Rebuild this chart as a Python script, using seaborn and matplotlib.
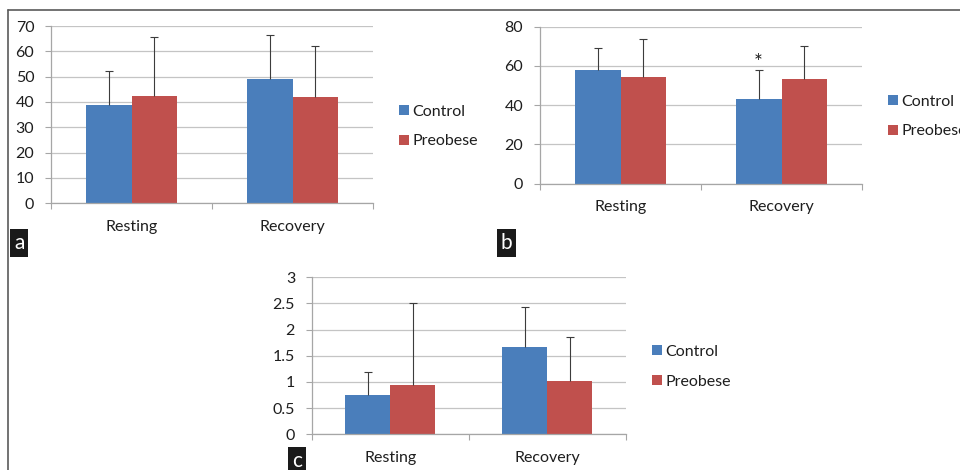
"""Three grouped bar panels (a, b, c): Control vs Preobese, Resting and Recovery."""

import matplotlib

matplotlib.use("Agg")
import matplotlib.pyplot as plt
import pandas as pd
import seaborn as sns
from matplotlib.lines import Line2D
from matplotlib.patches import Patch
from matplotlib.ticker import FuncFormatter

# Data (mean and upper SD whisker per group)
categories = ["Resting", "Recovery"]
groups = ["Control", "Preobese"]

a_control_mean = [39.0, 48.9]
a_control_sd = [13.1, 17.4]
a_preobese_mean = [42.2, 41.9]
a_preobese_sd = [23.6, 20.1]

b_control_mean = [57.8, 43.3]
b_control_sd = [11.3, 14.8]
b_preobese_mean = [54.2, 53.5]
b_preobese_sd = [19.4, 16.7]

c_control_mean = [0.75, 1.67]
c_control_sd = [0.44, 0.76]
c_preobese_mean = [0.95, 1.01]
c_preobese_sd = [1.56, 0.85]

a_ticks = [0, 10, 20, 30, 40, 50, 60, 70]
b_ticks = [0, 20, 40, 60, 80]
c_ticks = [0, 0.5, 1, 1.5, 2, 2.5, 3]

COLORS = {"Control": "#4a7ebb", "Preobese": "#c0504d"}
GRID = "#c4c4c4"
AXIS = "#a6a6a6"
TEXT = "#1e1e1e"
FONT = 11.5

sns.set_theme(style="white")
plt.rcParams["font.family"] = ["Lato", "DejaVu Sans"]

W, H = 960, 470
fig = plt.figure(figsize=(W / 100, H / 100), dpi=100)


def px_axes(x0, x1, y0, y1):
    """Axes given by pixel box (y measured from top)."""
    return fig.add_axes([x0 / W, (H - y1) / H, (x1 - x0) / W, (y1 - y0) / H])


def draw_panel(ax, ctrl_mean, ctrl_sd, pre_mean, pre_sd, ticks):
    frame = pd.DataFrame(
        {
            "category": categories * 2,
            "group": [groups[0]] * 2 + [groups[1]] * 2,
            "mean": ctrl_mean + pre_mean,
        }
    )
    sns.barplot(
        data=frame,
        x="category",
        y="mean",
        hue="group",
        order=categories,
        hue_order=groups,
        palette=COLORS,
        width=0.57,
        errorbar=None,
        saturation=1,
        legend=False,
        linewidth=0,
        ax=ax,
        zorder=2,
    )
    # Upper-only SD whiskers, placed from the bars seaborn drew
    for container, sds in zip(ax.containers, [ctrl_sd, pre_sd]):
        xs = [bar.get_x() + bar.get_width() / 2 for bar in container]
        hs = [bar.get_height() for bar in container]
        eb = ax.errorbar(
            xs,
            hs,
            yerr=[[0] * len(sds), sds],
            fmt="none",
            ecolor="#3c3c3c",
            elinewidth=0.8,
            capsize=3,
            capthick=0.8,
            zorder=3,
        )
        # drop the cap that would sit on the bar top
        eb.lines[1][0].set_visible(False)

    ax.set_xlim(-0.5, len(categories) - 0.5)
    ax.set_ylim(ticks[0], ticks[-1])
    ax.set_yticks(ticks)
    ax.yaxis.set_major_formatter(FuncFormatter(lambda v, _: f"{v:g}"))
    ax.set_xlabel("")
    ax.set_ylabel("")

    # Horizontal grid lines only
    ax.yaxis.grid(True, color=GRID, linewidth=0.9, zorder=0)
    ax.xaxis.grid(False)
    ax.set_axisbelow(True)

    for side in ["top", "right"]:
        ax.spines[side].set_visible(False)
    for side in ["left", "bottom"]:
        ax.spines[side].set_color(AXIS)
        ax.spines[side].set_linewidth(0.9)

    ax.tick_params(axis="y", left=True, length=4, width=0.8, color=AXIS,
                   labelsize=FONT, labelcolor=TEXT, pad=8)
    ax.tick_params(axis="x", which="major", bottom=False, length=0,
                   labelsize=FONT, labelcolor=TEXT, pad=12)
    # Category boundary ticks under the x axis
    ax.set_xticks([i - 0.5 for i in range(len(categories) + 1)], minor=True)
    ax.tick_params(axis="x", which="minor", bottom=True, length=4,
                   width=0.8, color=AXIS)


def add_legend(ax, x_px, y_px):
    handles = [Patch(facecolor=COLORS[g], edgecolor="none") for g in groups]
    ax.legend(
        handles,
        groups,
        loc="center left",
        bbox_to_anchor=(x_px / W, 1 - y_px / H),
        bbox_transform=fig.transFigure,
        frameon=False,
        fontsize=FONT,
        handlelength=0.6,
        handleheight=0.6,
        handletextpad=0.25,
        labelspacing=1.0,
        borderpad=0,
        borderaxespad=0,
        labelcolor=TEXT,
    )


def panel_label(x_px, y_px, letter):
    fig.text(
        x_px / W,
        1 - y_px / H,
        letter,
        ha="left",
        va="top",
        color="white",
        fontsize=15,
        family=["Lato", "DejaVu Sans"],
        bbox=dict(boxstyle="square,pad=0.18", facecolor="#1a1a1a", edgecolor="none"),
    )


# Panel a
ax_a = px_axes(51, 373, 26, 203.3)
draw_panel(ax_a, a_control_mean, a_control_sd, a_preobese_mean, a_preobese_sd, a_ticks)
add_legend(ax_a, 399, 126.5)
panel_label(14, 233, "a")

# Panel b
ax_b = px_axes(540, 862, 26.7, 183.7)
draw_panel(ax_b, b_control_mean, b_control_sd, b_preobese_mean, b_preobese_sd, b_ticks)
add_legend(ax_b, 888, 116.5)
panel_label(501, 233, "b")
# significance mark above the Recovery / Control whisker
star_bar = ax_b.containers[0][1]
ax_b.text(
    star_bar.get_x() + star_bar.get_width() / 2,
    b_control_mean[1] + b_control_sd[1] - 1.5,
    "*",
    ha="center",
    va="bottom",
    fontsize=15,
    color=TEXT,
)

# Panel c
ax_c = px_axes(311.7, 625.7, 277.3, 434.3)
draw_panel(ax_c, c_control_mean, c_control_sd, c_preobese_mean, c_preobese_sd, c_ticks)
add_legend(ax_c, 652, 367)
panel_label(292, 451, "c")

# Outer frame: top rule and left rule
frame_kw = dict(color="#5a5a5a", linewidth=1.2, transform=fig.transFigure)
fig.add_artist(Line2D([8 / W, 1], [1 - 10 / H, 1 - 10 / H], **frame_kw))
fig.add_artist(Line2D([8 / W, 8 / W], [1 - 10 / H, 0], **frame_kw))

fig.savefig("out.png", dpi=100, facecolor="white")
